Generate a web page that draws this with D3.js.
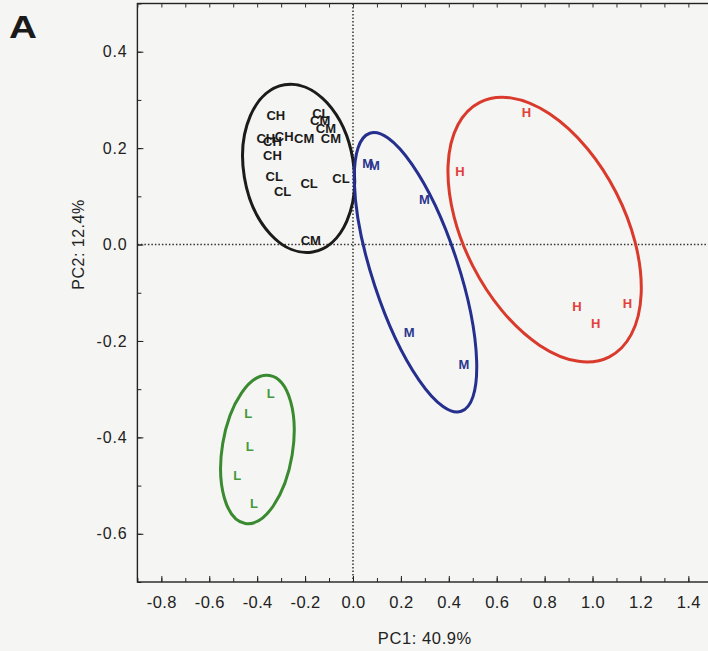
<!DOCTYPE html>
<html><head><meta charset="utf-8">
<script src="https://cdn.jsdelivr.net/npm/d3@7"></script>
<style>
html,body{margin:0;padding:0;background:#f5f5f3;}
svg{display:block;}
text{font-family:"Liberation Sans",Arial,Helvetica,sans-serif;}
</style></head>
<body>
<script>
// ---- data ----
const xTicks = [-0.8,-0.6,-0.4,-0.2,0.0,0.2,0.4,0.6,0.8,1.0,1.2,1.4];
const yTicks = [0.4,0.2,0.0,-0.2,-0.4,-0.6];
const xLabel = "PC1: 40.9%";
const yLabel = "PC2: 12.4%";
const panelLabel = "A";

// control group (black)
const cLabels = ["CH","CL","CM","CM","CH","CH","CH","CM","CM","CH","CL","CL","CL","CL","CM"];
const cX = [-0.322,-0.134,-0.137,-0.113,-0.364,-0.336,-0.287,-0.204,-0.092,-0.336,-0.329,-0.294,-0.183,-0.050,-0.176];
const cY = [0.269,0.273,0.258,0.241,0.220,0.215,0.224,0.220,0.220,0.186,0.141,0.110,0.127,0.137,0.009];
// M group (blue)
const mLabels = ["M","M","M","M","M"];
const mX = [0.061,0.089,0.298,0.235,0.463];
const mY = [0.168,0.165,0.094,-0.183,-0.249];
// H group (red)
const hLabels = ["H","H","H","H","H"];
const hX = [0.724,0.447,0.935,1.013,1.146];
const hY = [0.274,0.152,-0.128,-0.163,-0.122];
// L group (green)
const lLabels = ["L","L","L","L","L"];
const lX = [-0.343,-0.437,-0.431,-0.483,-0.413];
const lY = [-0.309,-0.350,-0.419,-0.478,-0.537];

// confidence ellipses: center (data), semi-axes (x-units, y-units), rotation (deg)
const ellipseNames = ["C","M","H","L"];
const ellCX = [-0.227,0.261,0.800,-0.399];
const ellCY = [0.158,-0.0575,0.031,-0.425];
const ellRX = [0.354,0.611,0.596,0.313];
const ellRY = [0.114,0.089,0.167,0.073];
const ellRot = [80.5,71.8,63,-80.7];

// ---- layout ----
const W = 708, H = 651;
const m = {left:137.4, top:3.5, right:712.3, bottom:582};
const x = d3.scaleLinear().domain([-0.9,1.5]).range([m.left,m.right]);
const y = d3.scaleLinear().domain([-0.7,0.5]).range([m.bottom,m.top]);

const colors = {C:"#1b1b1b", M:"#252f8e", H:"#d93a2c", L:"#3a8a30"};
const labelColors = {C:"#1b1b1b", M:"#2b3690", H:"#e2413a", L:"#449a3a"};

const svg = d3.select("body").append("svg").attr("width",W).attr("height",H);
svg.append("rect").attr("width",W).attr("height",H).attr("fill","#f5f5f3");

// frame
svg.append("rect").attr("x",m.left).attr("y",m.top)
  .attr("width",m.right-m.left).attr("height",m.bottom-m.top)
  .attr("fill","none").attr("stroke","#222").attr("stroke-width",1.4);

// zero lines
svg.append("line").attr("x1",x(0)).attr("x2",x(0)).attr("y1",m.top).attr("y2",m.bottom)
  .attr("stroke","#333").attr("stroke-width",1.5).attr("stroke-dasharray","1.5,2");
svg.append("line").attr("x1",m.left).attr("x2",m.right).attr("y1",y(0)).attr("y2",y(0))
  .attr("stroke","#333").attr("stroke-width",1.5).attr("stroke-dasharray","1.5,2");

// axes
const minorX = d3.range(-9,16).map(d=>d/10);
const minorY = d3.range(-7,6).map(d=>d/10);
const fmt = d => d.toFixed(1);

const xAxis = svg.append("g").attr("transform",`translate(0,${m.bottom})`)
  .call(d3.axisBottom(x).tickValues(minorX).tickSize(-4).tickFormat(""));
xAxis.select(".domain").remove();
xAxis.selectAll("line").attr("stroke","#222");
const xAxisMaj = svg.append("g").attr("transform",`translate(0,${m.bottom})`)
  .call(d3.axisBottom(x).tickValues(xTicks).tickSize(-6).tickPadding(14).tickFormat(fmt));
xAxisMaj.select(".domain").remove();
xAxisMaj.selectAll("line").attr("stroke","#222");
xAxisMaj.selectAll("text").attr("font-size",16.5).attr("fill","#222")
  .attr("letter-spacing","0.4px")
  .attr("font-family","Liberation Sans, Arial, sans-serif");

const xTop = svg.append("g").attr("transform",`translate(0,${m.top})`)
  .call(d3.axisTop(x).tickValues(minorX).tickSize(-4).tickFormat(""));
xTop.select(".domain").remove();
xTop.selectAll("line").attr("stroke","#333");

const yAxis = svg.append("g").attr("transform",`translate(${m.left},0)`)
  .call(d3.axisLeft(y).tickValues(minorY).tickSize(-4).tickFormat(""));
yAxis.select(".domain").remove();
yAxis.selectAll("line").attr("stroke","#222");
const yAxisMaj = svg.append("g").attr("transform",`translate(${m.left},0)`)
  .call(d3.axisLeft(y).tickValues(yTicks).tickSize(-6).tickPadding(10).tickFormat(fmt));
yAxisMaj.select(".domain").remove();
yAxisMaj.selectAll("line").attr("stroke","#222");
yAxisMaj.selectAll("text").attr("font-size",16).attr("fill","#222")
  .attr("letter-spacing","0.8px")
  .attr("font-family","Liberation Sans, Arial, sans-serif");

// axis titles
svg.append("text").attr("x",x(0.3)).attr("y",643.5).attr("text-anchor","middle")
  .attr("font-size",16.5).attr("letter-spacing","0.6px").attr("fill","#222").text(xLabel);
svg.append("text").attr("transform",`translate(83.5,${y(0)}) rotate(-90)`)
  .attr("text-anchor","middle").attr("font-size",16).attr("letter-spacing","0.5px")
  .attr("fill","#222").text(yLabel);

// panel label
svg.append("text").attr("transform","translate(9,37.5) scale(1.25,1)")
  .attr("font-size",31).attr("font-weight",900).attr("fill","#1a1a1a").text(panelLabel);

// ellipses
const ellData = ellipseNames.map((n,i)=>({n,cx:ellCX[i],cy:ellCY[i],rx:ellRX[i],ry:ellRY[i],rot:ellRot[i]}));
svg.append("g").selectAll("ellipse").data(ellData).join("ellipse")
  .attr("cx",d=>x(d.cx)).attr("cy",d=>y(d.cy))
  .attr("rx",d=>x(d.cx+d.rx)-x(d.cx)).attr("ry",d=>y(d.cy)-y(d.cy+d.ry))
  .attr("transform",d=>`rotate(${d.rot},${x(d.cx)},${y(d.cy)})`)
  .attr("fill","none").attr("stroke",d=>colors[d.n]).attr("stroke-width",3);

// point labels
const groups = [
  {n:"C",labels:cLabels,xs:cX,ys:cY},
  {n:"M",labels:mLabels,xs:mX,ys:mY},
  {n:"H",labels:hLabels,xs:hX,ys:hY},
  {n:"L",labels:lLabels,xs:lX,ys:lY}
];
groups.forEach(g=>{
  const pts = g.labels.map((t,i)=>({t,x:g.xs[i],y:g.ys[i]}));
  svg.append("g").selectAll("text").data(pts).join("text")
    .attr("x",d=>x(d.x)).attr("y",d=>y(d.y)).attr("dy","0.36em")
    .attr("text-anchor","middle").attr("font-size",13).attr("font-weight","bold")
    .attr("fill",labelColors[g.n]).text(d=>d.t);
});
</script>
</body></html>
